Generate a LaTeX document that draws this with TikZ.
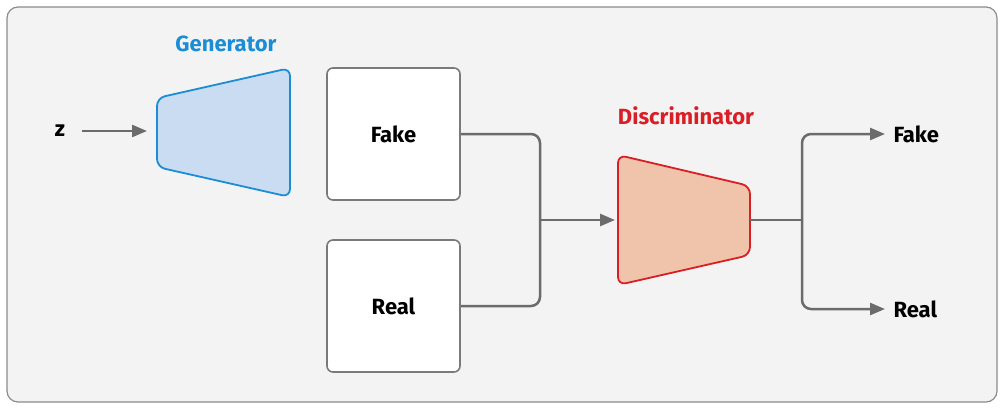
\documentclass[tikz,border=0pt]{standalone}
\usepackage{fontspec}
\setmainfont{Fira Sans}
\usetikzlibrary{arrows.meta,calc}
\definecolor{bgfill}{HTML}{F3F3F3}
\definecolor{bgline}{HTML}{8C8C8C}
\definecolor{boxline}{HTML}{7A7A7A}
\definecolor{linkgray}{HTML}{6B6B6B}
\definecolor{genblue}{HTML}{1A8DD4}
\definecolor{genfill}{HTML}{CADCF2}
\definecolor{discred}{HTML}{D91E25}
\definecolor{discfill}{HTML}{F0C4AB}
\begin{document}
\begin{tikzpicture}[x=1pt,y=-1pt,every node/.style={font=\bfseries\fontsize{22}{26}\selectfont},
  box/.style={draw=boxline,line width=1.6pt,fill=white,rounded corners=6pt,minimum width=133pt,minimum height=132pt},
  blk/.style={inner sep=0pt,outer sep=0pt},
  link/.style={draw=linkgray,line width=2.5pt,rounded corners=9pt},
  arr/.style={link,-{Triangle[length=15pt,width=12pt]}}]
\useasboundingbox (0,0) rectangle (1003,409);
\draw[fill=bgfill,draw=bgline,line width=1.2pt,rounded corners=11pt] (7,7) rectangle (997,402);
% generator and discriminator blocks
\node[blk,minimum width=133pt,minimum height=129pt] (gen) at (223.5,132.5) {};
\node[blk,minimum width=132pt,minimum height=130pt] (disc) at (684,220) {};
\draw[draw=genblue,fill=genfill,line width=1.8pt,rounded corners=8pt] ($(gen.north west)+(0,30)$) -- (gen.north east) -- (gen.south east) -- ($(gen.south west)+(0,-30)$) -- cycle;
\draw[draw=discred,fill=discfill,line width=1.8pt,rounded corners=8pt] (disc.north west) -- ($(disc.north east)+(0,31)$) -- ($(disc.south east)+(0,-30)$) -- (disc.south west) -- cycle;
\node[text=genblue] (genlabel) at (226,44) {Generator};
\node[text=discred] (disclabel) at (686,116) {Discriminator};
% inputs
\node (z) at (60,131) {z};
\node[box] (fake) at (393.5,134) {Fake};
\node[box] (real) at (393.5,306) {Real};
\node[anchor=west] (outfake) at (890,134) {Fake};
\node[anchor=west] (outreal) at (890,309) {Real};
\coordinate (join) at (540,220);
\coordinate (split) at (802,220);
% connectors
\draw[arr,shorten <=13pt,shorten >=10pt] (z.east) -- (z.east -| gen.west);
\draw[link] (fake.east) -| (join);
\draw[link] (real.east) -| (join);
\draw[arr,shorten >=3pt] (join) -- (disc.west);
\draw[link] (disc.east) -- (split);
\draw[arr,shorten >=5pt] (split) |- (outfake.west);
\draw[arr,shorten >=5pt] (split) |- (outreal.west);
\end{tikzpicture}
\end{document}
